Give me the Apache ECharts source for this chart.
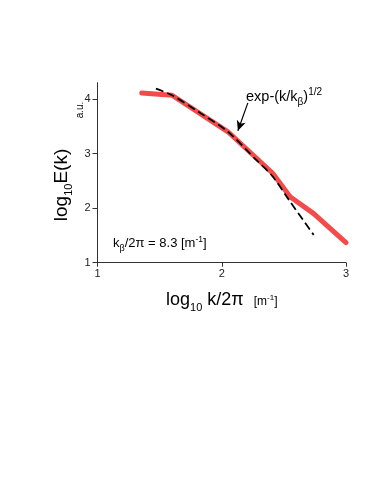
<!DOCTYPE html>
<html><head><meta charset="utf-8">
<script src="https://cdn.jsdelivr.net/npm/echarts@6/dist/echarts.min.js"></script>
<style>html,body{margin:0;padding:0;background:#fff}#c{width:374px;height:488px}</style>
</head><body><div id="c"></div>
<script>
var redX = [1.356, 1.60, 2.05, 2.41, 2.55, 2.74, 3.0];
var redY = [4.11, 4.07, 3.40, 2.64, 2.21, 1.90, 1.37];
var dashX = [1.47, 1.60, 1.83, 2.05, 2.28, 2.41, 2.55, 2.74];
var dashY = [4.19, 4.07, 3.74, 3.40, 2.88, 2.58, 2.12, 1.51];
var xTicks = [1, 2, 3];
var yTicks = [1, 2, 3, 4];
var arrowFrom = [2.21, 3.93];
var arrowTo = [2.13, 3.42];

var F = 'Liberation Sans, Arial, sans-serif';
var chart = echarts.init(document.getElementById('c'));
var axisCommon = {
  axisLine: {show: true, lineStyle: {color: '#333', width: 1}},
  splitLine: {show: false}
};
chart.setOption({
  animation: false,
  grid: {left: 97.5, right: 28, top: 82.7, bottom: 225.3, containLabel: false},
  xAxis: Object.assign({}, axisCommon, {
    type: 'value', min: 1, max: 3, interval: 1,
    axisTick: {show: true, length: 4, lineStyle: {color: '#333'}, customValues: xTicks},
    axisLabel: {color: '#222', fontSize: 11, fontFamily: F, margin: 6, customValues: xTicks}
  }),
  yAxis: Object.assign({}, axisCommon, {
    type: 'value', min: 1, max: 4.3, interval: 1,
    axisTick: {show: true, length: 5, lineStyle: {color: '#333'}, customValues: yTicks},
    axisLabel: {color: '#222', fontSize: 11, fontFamily: F, margin: 7, customValues: yTicks}
  }),
  series: [
    {
      type: 'line', data: redX.map(function (x, i) { return [x, redY[i]]; }),
      showSymbol: false, lineStyle: {color: '#f44a4a', width: 5, cap: 'round', join: 'round'},
      z: 2
    },
    {
      type: 'line', data: dashX.map(function (x, i) { return [x, dashY[i]]; }),
      showSymbol: false, smooth: 0.3,
      lineStyle: {color: '#000', width: 1.8, type: [8, 4]},
      z: 3,
      markLine: {
        silent: true, symbol: ['none', 'arrow'], symbolSize: [7, 10],
        label: {show: false},
        lineStyle: {color: '#000', width: 1.2, type: 'solid'},
        data: [[{coord: arrowFrom}, {coord: arrowTo}]]
      }
    }
  ],
  graphic: [
    {
      type: 'text', x: 60, y: 185, rotation: Math.PI / 2,
      style: {
        text: '{a|log}{s|10}{a|E(k)}', fill: '#000', align: 'center', verticalAlign: 'middle',
        rich: {
          a: {fontSize: 19, fontFamily: F, lineHeight: 22, verticalAlign: 'bottom'},
          s: {fontSize: 11, fontFamily: F, lineHeight: 22, verticalAlign: 'bottom', padding: [0, 0, -3, 0]}
        }
      }
    },
    {
      type: 'text', x: 80, y: 110, rotation: Math.PI / 2,
      style: {text: 'a.u.', fontSize: 10, fontFamily: F, fill: '#000', align: 'center', verticalAlign: 'middle'}
    },
    {
      type: 'text', x: 166, y: 298,
      style: {
        text: '{a|log}{s|10}{a| k/2π}{b|   [m}{t|-1}{b|]}', fill: '#000', align: 'left', verticalAlign: 'middle',
        rich: {
          a: {fontSize: 18, fontFamily: F, lineHeight: 22, verticalAlign: 'bottom'},
          s: {fontSize: 11, fontFamily: F, lineHeight: 22, verticalAlign: 'bottom', padding: [0, 0, -4, 0]},
          b: {fontSize: 12, fontFamily: F, lineHeight: 22, verticalAlign: 'bottom', padding: [0, 0, 1, 0]},
          t: {fontSize: 8, fontFamily: F, lineHeight: 22, verticalAlign: 'bottom', padding: [0, 0, 7, 0]}
        }
      }
    },
    {
      type: 'text', x: 246, y: 94,
      style: {
        text: '{a|exp-(k/k}{s|β}{a|)}{t|1/2}', fill: '#000', align: 'left', verticalAlign: 'middle',
        rich: {
          a: {fontSize: 14.5, fontFamily: F, lineHeight: 20, verticalAlign: 'bottom'},
          s: {fontSize: 10, fontFamily: F, lineHeight: 20, verticalAlign: 'bottom', padding: [0, 0, -3, 0]},
          t: {fontSize: 10, fontFamily: F, lineHeight: 20, verticalAlign: 'bottom', padding: [0, 0, 7, 0]}
        }
      }
    },
    {
      type: 'text', x: 113, y: 241,
      style: {
        text: '{a|k}{s|β}{a|/2π = 8.3 [m}{t|-1}{a|]}', fill: '#000', align: 'left', verticalAlign: 'middle',
        rich: {
          a: {fontSize: 13, fontFamily: F, lineHeight: 18, verticalAlign: 'bottom'},
          s: {fontSize: 9, fontFamily: F, lineHeight: 18, verticalAlign: 'bottom', padding: [0, 0, -3, 0]},
          t: {fontSize: 8.5, fontFamily: F, lineHeight: 18, verticalAlign: 'bottom', padding: [0, 0, 6, 0]}
        }
      }
    }
  ]
});
</script></body></html>
